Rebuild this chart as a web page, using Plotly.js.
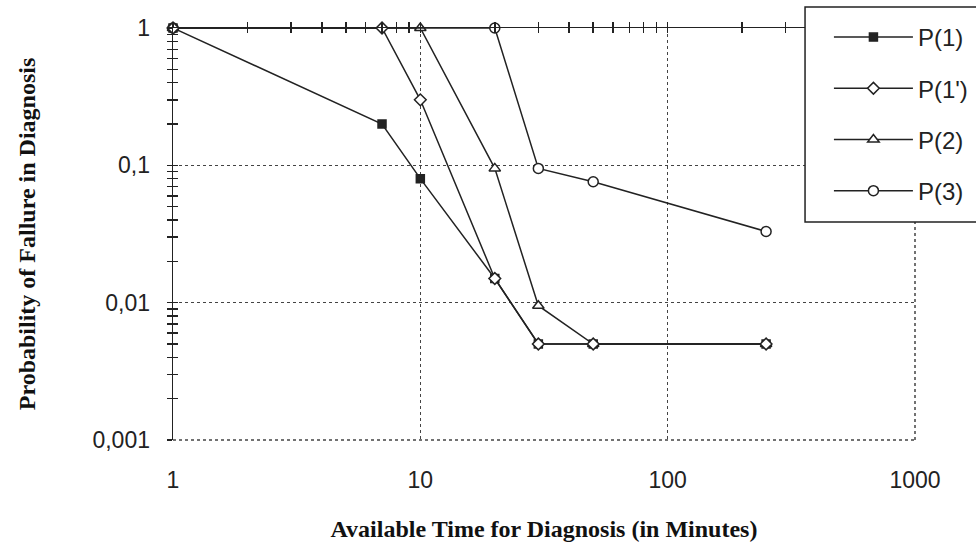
<!DOCTYPE html>
<html>
<head>
<meta charset="utf-8">
<script src="https://cdn.plot.ly/plotly-3.0.1.min.js"></script>
<style>html,body{margin:0;padding:0;background:#fff;}#chart{width:976px;height:548px;}</style>
</head>
<body>
<div id="chart"></div>
<script>
// ---- data ----
const seriesNames = ["P(1)", "P(1')", "P(2)", "P(3)"];
const xP1  = [1, 7, 10, 20, 30, 50, 250];
const yP1  = [1, 0.2, 0.08, 0.015, 0.005, 0.005, 0.005];
const xP1b = [1, 7, 10, 20, 30, 50, 250];
const yP1b = [1, 1, 0.3, 0.015, 0.005, 0.005, 0.005];
const xP2  = [1, 10, 20, 30, 50, 250];
const yP2  = [1, 1, 0.095, 0.0095, 0.005, 0.005];
const xP3  = [1, 20, 30, 50, 250];
const yP3  = [1, 1, 0.095, 0.076, 0.033];

const xTickVals = [1, 10, 100, 1000];
const xTickText = ["1", "10", "100", "1000"];
const yTickVals = [1, 0.1, 0.01, 0.001];
const yTickText = ["1", "0,1", "0,01", "0,001"];

// all tick-mark positions (1..9 in each decade) for the crossing tick marks
function allTicks(lo, hi) {
  const out = [];
  for (let e = lo; e < hi; e++) for (let m = 1; m <= 9; m++) out.push(m * Math.pow(10, e));
  out.push(Math.pow(10, hi));
  return out;
}
const xAllTicks = allTicks(0, 3);
const yAllTicks = allTicks(-3, 0);

const ink = '#222';
const gridCol = '#444';
const tickFont = {family: 'Liberation Sans, Arial, sans-serif', size: 23, color: ink};
const titleFont = {family: 'Liberation Serif, Times New Roman, serif', size: 24, color: '#111', weight: 'bold'};

function tr(x, y, name, symbol, size, grp, xa, ya) {
  return {
    x: x, y: y, name: name, type: 'scatter', mode: 'lines+markers',
    legendgroup: grp, xaxis: xa, yaxis: ya,
    line: {color: ink, width: 1.5},
    marker: {symbol: symbol, size: size, color: symbol === 'square' ? ink : '#fff',
             line: {color: ink, width: 1.5}},
    cliponaxis: false
  };
}

const data = [
  tr(xP1, yP1, seriesNames[0], 'square', 8, 'a', 'x2', 'y2'),
  tr(xP1b, yP1b, seriesNames[1], 'diamond', 9, 'b', 'x3', 'y3'),
  tr(xP2, yP2, seriesNames[2], 'triangle-up', 10, 'c', 'x', 'y'),
  tr(xP3, yP3, seriesNames[3], 'circle', 10, 'd', 'x', 'y')
];

const tickAx = {type: 'log', showticklabels: false, showgrid: false, zeroline: false,
                tickmode: 'array', ticklen: 5, tickcolor: ink, tickwidth: 1.5};

const layout = {
  width: 976, height: 548,
  margin: {l: 173, r: 61, t: 28, b: 108, autoexpand: false},
  paper_bgcolor: '#fff', plot_bgcolor: '#fff',
  showlegend: true,
  xaxis: {
    type: 'log', range: [0, 3], tickmode: 'array', tickvals: xTickVals, ticktext: xTickText,
    ticks: '', showline: false, showgrid: true, griddash: 'dot', gridcolor: gridCol, gridwidth: 1.5,
    zeroline: false, tickfont: tickFont, ticklabelstandoff: 24, anchor: 'y',
    title: {text: 'Available Time for Diagnosis (in Minutes)', font: titleFont, standoff: 28}
  },
  yaxis: {
    type: 'log', range: [-3, 0], tickmode: 'array', tickvals: yTickVals, ticktext: yTickText,
    showline: false, ticks: '', anchor: 'x',
    showgrid: true, griddash: 'dot', gridcolor: gridCol, gridwidth: 1.5,
    zeroline: false, tickfont: tickFont, ticklabelstandoff: 22,
    title: {text: 'Probability of Fallure in Diagnosis', font: titleFont, standoff: 50}
  },
  // top axis line at y = 1 with crossing tick marks
  xaxis2: Object.assign({}, tickAx, {overlaying: 'x', side: 'top', anchor: 'y2', range: [0, 3],
    showline: true, linecolor: ink, linewidth: 1.5, tickvals: xAllTicks, ticks: 'inside'}),
  xaxis3: Object.assign({}, tickAx, {overlaying: 'x', side: 'top', anchor: 'y3', range: [0, 3],
    showline: false, tickvals: xAllTicks, ticks: 'outside'}),
  // left axis line at x = 1 with crossing tick marks
  yaxis2: Object.assign({}, tickAx, {overlaying: 'y', side: 'left', anchor: 'x2', range: [-3, 0],
    showline: true, linecolor: ink, linewidth: 1.5, tickvals: yAllTicks, ticks: 'outside'}),
  yaxis3: Object.assign({}, tickAx, {overlaying: 'y', side: 'left', anchor: 'x3', range: [-3, 0],
    showline: false, tickvals: yAllTicks, ticks: 'inside'}),
  shapes: [
    // dotted frame lines at the bottom (0,001) and right (1000) edges of the plot area
    {type: 'line', xref: 'paper', yref: 'paper', x0: 0, x1: 1, y0: 0, y1: 0,
     line: {color: gridCol, width: 1.5, dash: 'dot'}, layer: 'below'},
    {type: 'line', xref: 'paper', yref: 'paper', x0: 1, x1: 1, y0: 0, y1: 1,
     line: {color: gridCol, width: 1.5, dash: 'dot'}, layer: 'below'},
    // legend frame
    {type: 'rect', xref: 'paper', yref: 'paper', x0: 0.8518, x1: 1.2, y0: 0.529, y1: 1.051,
     fillcolor: '#fff', line: {color: ink, width: 1.5}, layer: 'above'}
  ],
  legend: {
    x: 0.884, y: 1.0316, xanchor: 'left', yanchor: 'top',
    bgcolor: 'rgba(0,0,0,0)', borderwidth: 0,
    font: {family: 'Liberation Sans, Arial, sans-serif', size: 24, color: ink},
    traceorder: 'grouped', tracegroupgap: 17, itemwidth: 79
  }
};

Plotly.newPlot('chart', data, layout, {displayModeBar: false, staticPlot: true});
</script>
</body>
</html>
